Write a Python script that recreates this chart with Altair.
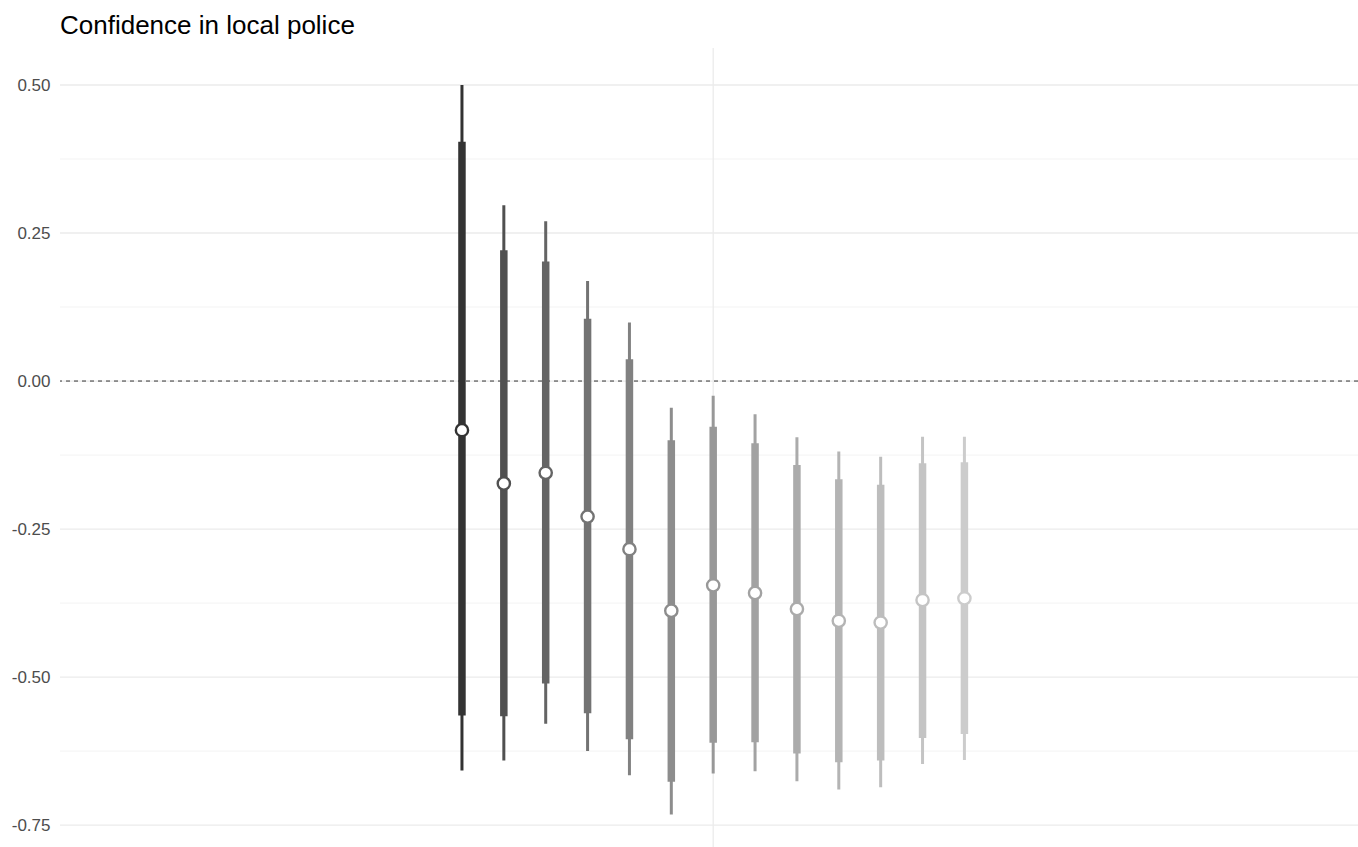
import altair as alt
import pandas as pd

# Estimates with 90% (thick) and 95% (thin) intervals, one per period
period = list(range(13))
estimate = [-0.083, -0.173, -0.155, -0.229, -0.284, -0.388, -0.345, -0.358,
            -0.385, -0.405, -0.408, -0.370, -0.367]
inner_lo = [-0.565, -0.566, -0.511, -0.561, -0.605, -0.677, -0.611, -0.610,
            -0.629, -0.644, -0.641, -0.603, -0.596]
inner_hi = [0.404, 0.221, 0.202, 0.105, 0.037, -0.100, -0.077, -0.105,
            -0.142, -0.166, -0.175, -0.139, -0.137]
outer_lo = [-0.658, -0.641, -0.579, -0.625, -0.666, -0.732, -0.663, -0.659,
            -0.676, -0.690, -0.686, -0.647, -0.640]
outer_hi = [0.500, 0.297, 0.270, 0.169, 0.099, -0.045, -0.025, -0.056,
            -0.095, -0.119, -0.128, -0.094, -0.094]
greys = ["#333333", "#505050", "#646464", "#737373", "#818181", "#8D8D8D",
         "#989898", "#A2A2A2", "#ABABAB", "#B4B4B4", "#BDBDBD", "#C4C4C4",
         "#CCCCCC"]

major_y = [-0.75, -0.5, -0.25, 0.0, 0.25, 0.5]
minor_y = [-0.625, -0.375, -0.125, 0.125, 0.375]
x_grid = [6]

df = pd.DataFrame({
    "period": period, "estimate": estimate,
    "inner_lo": inner_lo, "inner_hi": inner_hi,
    "outer_lo": outer_lo, "outer_hi": outer_hi,
    "grey": greys,
})

x_scale = alt.Scale(domain=[-9.6, 21.4], nice=False, zero=False)
y_scale = alt.Scale(domain=[-0.787, 0.5625], nice=False, zero=False)
y_axis = alt.Axis(values=major_y, format=".2f", title=None,
                  labelExpr="replace(datum.label, '\u2212', '-')",
                  domain=False, ticks=False, grid=False,
                  labelFontSize=17, labelColor="#4d4d4d",
                  labelFont="Liberation Sans", labelPadding=10)
X = alt.X("period:Q", scale=x_scale, axis=None)
color = alt.Color("grey:N", scale=None)


def Y(field):
    return alt.Y(field, scale=y_scale, axis=y_axis)


minor = alt.Chart(pd.DataFrame({"y": minor_y})).mark_rule(
    color="#f3f3f3", strokeWidth=1
).encode(y=Y("y:Q"))

major = alt.Chart(pd.DataFrame({"y": major_y})).mark_rule(
    color="#ebebeb", strokeWidth=1.3
).encode(y=Y("y:Q"))

vgrid = alt.Chart(pd.DataFrame({"x": x_grid})).mark_rule(
    color="#ebebeb", strokeWidth=1.3
).encode(x=alt.X("x:Q", scale=x_scale, axis=None))

zero = alt.Chart(pd.DataFrame({"y": [0.0]})).mark_rule(
    color="#333333", strokeWidth=1, strokeDash=[4, 4]
).encode(y=Y("y:Q"))

thin = alt.Chart(df).mark_rule(strokeWidth=3).encode(
    x=X, y=Y("outer_lo:Q"), y2="outer_hi:Q", color=color
)
thick = alt.Chart(df).mark_rule(strokeWidth=7.5).encode(
    x=X, y=Y("inner_lo:Q"), y2="inner_hi:Q", color=color
)
points = alt.Chart(df).mark_point(
    shape="circle", filled=False, fill="white", fillOpacity=1,
    size=150, strokeWidth=2.4, opacity=1
).encode(x=X, y=Y("estimate:Q"), stroke=alt.Stroke("grey:N", scale=None))

chart = alt.layer(minor, major, vgrid, zero, thin, thick, points).properties(
    width=1298, height=799,
    title=alt.TitleParams("Confidence in local police", anchor="start",
                          frame="group",
                          fontSize=26, font="Liberation Sans",
                          fontWeight="normal", color="#000000",
                          baseline="alphabetic", offset=15, dy=28),
    padding={"left": 60, "top": 48, "right": 0, "bottom": 0},
    autosize=alt.AutoSizeParams(type="none"),
).configure(background="white").configure_view(stroke="transparent", strokeWidth=0)

chart.save("out.html", embed_options={"renderer": "svg", "actions": False})
